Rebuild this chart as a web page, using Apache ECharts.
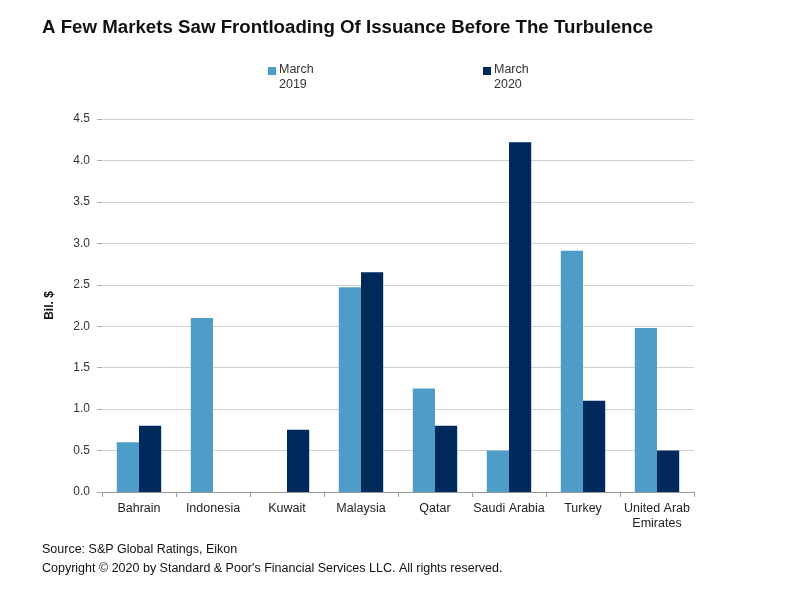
<!DOCTYPE html>
<html><head><meta charset="utf-8">
<script src="https://cdn.jsdelivr.net/npm/echarts@6/dist/echarts.min.js"></script>
<style>html,body{margin:0;padding:0;background:#fff}#c{width:800px;height:600px}</style>
</head><body><div id="c"></div>
<script>
const categories = ['Bahrain','Indonesia','Kuwait','Malaysia','Qatar','Saudi Arabia','Turkey','United Arab\nEmirates'];
const march2019 = [0.6, 2.1, 0, 2.47, 1.25, 0.5, 2.91, 1.98];
const march2020 = [0.8, 0, 0.75, 2.65, 0.8, 4.22, 1.1, 0.5];
const yTicks = [0, 0.5, 1, 1.5, 2, 2.5, 3, 3.5, 4, 4.5];

const FONT = '"Liberation Sans", Arial, sans-serif';
const iconPath = 'path://M0,0H8V8H0Z M0,19.9H0.05V20H0Z';
const chart = echarts.init(document.getElementById('c'));
chart.setOption({
  animation: false,
  backgroundColor: '#fff',
  textStyle: { fontFamily: FONT },
  title: [
    { text: 'A Few Markets Saw Frontloading Of Issuance Before The Turbulence', left: 42, top: 18, padding: 0,
      textStyle: { fontFamily: FONT, fontSize: 18.7, fontWeight: 'bold', color: '#111' } },
    { text: 'Source: S&P Global Ratings, Eikon\nCopyright © 2020 by Standard & Poor\'s Financial Services LLC. All rights reserved.',
      left: 42, top: 540, padding: 0, textStyle: { fontFamily: FONT, fontSize: 12.5, fontWeight: 'normal', color: '#111', lineHeight: 19 } }
  ],
  legend: [
    { data: ['March\n2019'], left: 268, top: 62, padding: 0, itemWidth: 8, itemHeight: 20, icon: iconPath,
      itemGap: 4, textStyle: { fontFamily: FONT, fontSize: 12.5, color: '#333', lineHeight: 15, padding: [0,0,0,-2] } },
    { data: ['March\n2020'], left: 483, top: 62, padding: 0, itemWidth: 8, itemHeight: 20, icon: iconPath,
      itemGap: 4, textStyle: { fontFamily: FONT, fontSize: 12.5, color: '#333', lineHeight: 15, padding: [0,0,0,-2] } }
  ],
  grid: { left: 102, right: 106, top: 119, bottom: 108, containLabel: false },
  xAxis: {
    type: 'category', data: categories,
    axisLine: { lineStyle: { color: '#999' } },
    axisTick: { show: true, length: 5, interval: 0, lineStyle: { color: '#999' } },
    axisLabel: { fontFamily: FONT, fontSize: 12.5, color: '#222', margin: 9, lineHeight: 15, interval: 0 }
  },
  yAxis: {
    type: 'value', min: 0, max: 4.5, interval: 0.5,
    name: 'Bil. $', nameLocation: 'middle', nameGap: 46, nameRotate: 90,
    nameTextStyle: { fontFamily: FONT, fontSize: 12, fontWeight: 'bold', color: '#111' },
    axisLine: { show: false },
    axisTick: { show: true, length: 5, lineStyle: { color: '#aaa' } },
    splitLine: { lineStyle: { color: '#d0d0d0' } },
    axisLabel: { fontFamily: FONT, fontSize: 12, color: '#333', margin: 12,
      formatter: v => yTicks.includes(v) ? v.toFixed(1) : '' }
  },
  series: [
    { name: 'March\n2019', type: 'bar', data: march2019, barGap: '0%', barCategoryGap: '40%',
      itemStyle: { color: '#4E9CC8' } },
    { name: 'March\n2020', type: 'bar', data: march2020, barGap: '0%', barCategoryGap: '40%',
      itemStyle: { color: '#00295C' } }
  ]
});
</script></body></html>
